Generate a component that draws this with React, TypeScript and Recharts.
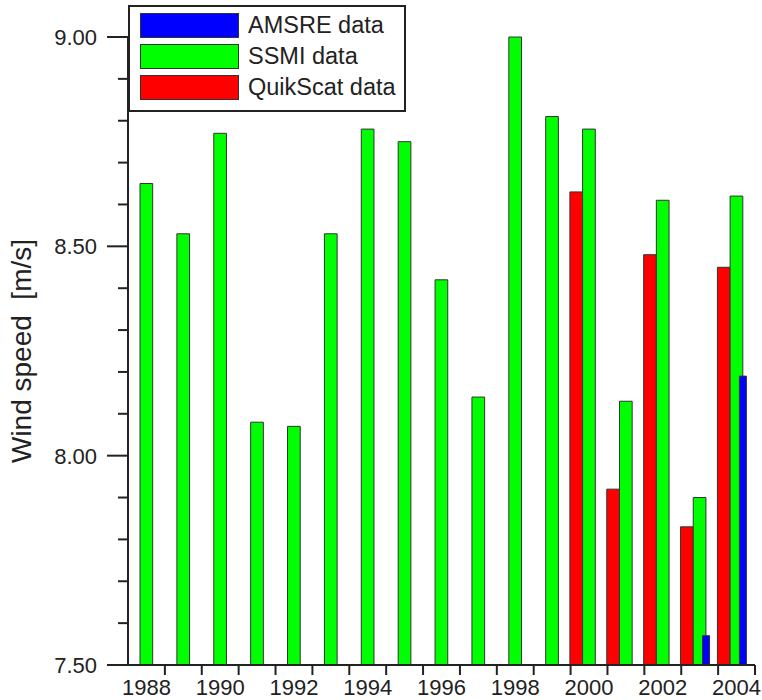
import { BarChart, Bar, XAxis, YAxis, Legend, Rectangle } from 'recharts';

const years = [
  '1988', '1989', '1990', '1991', '1992', '1993', '1994', '1995', '1996',
  '1997', '1998', '1999', '2000', '2001', '2002', '2003', '2004',
];
const ssmi = [8.65, 8.53, 8.77, 8.08, 8.07, 8.53, 8.78, 8.75, 8.42, 8.14, 9.0, 8.81, 8.78, 8.13, 8.61, 7.9, 8.62];
const quikscat = [null, null, null, null, null, null, null, null, null, null, null, null, 8.63, 7.92, 8.48, 7.83, 8.45];
const amsre = [null, null, null, null, null, null, null, null, null, null, null, null, null, null, null, 7.57, 8.19];

const yTicks = [7.5, 7.6, 7.7, 7.8, 7.9, 8.0, 8.1, 8.2, 8.3, 8.4, 8.5, 8.6, 8.7, 8.8, 8.9, 9.0];
const yLabelTicks = [7.5, 8.0, 8.5, 9.0];
const xLabelYears = ['1988', '1990', '1992', '1994', '1996', '1998', '2000', '2002', '2004'];
const legendOrder = ['AMSRE data', 'SSMI data', 'QuikScat data'];

const data = years.map((year, i) => ({
  year,
  ssmi: ssmi[i],
  quikscat: quikscat[i],
  amsre: amsre[i],
}));

const W = 762;
const H = 700;
const LEFT = 128;
const RIGHT = 7;
const FONT = '"Liberation Sans", Arial, sans-serif';
const INK = '#222';
const band = (W - LEFT - RIGHT) / years.length;
const barW = 12.7;

// move a bar sideways from the band centre
const shifted = (dx: number) => (props: any) => <Rectangle {...props} x={props.x + dx} />;

const XTick = ({ x, y, payload }: any) => (
  <g>
    <line x1={x + band / 2} x2={x + band / 2} y1={y} y2={y + 10} stroke={INK} strokeWidth={2} />
    {xLabelYears.includes(payload.value) && (
      <text x={x} y={y + 30} textAnchor="middle" fontSize={22} fontFamily={FONT} fill={INK}>
        {payload.value}
      </text>
    )}
  </g>
);

const YTick = ({ x, y, payload }: any) => {
  const major = yLabelTicks.some((t) => Math.abs(t - payload.value) < 1e-6);
  return (
    <g>
      <line x1={x - (major ? 21 : 10)} x2={x} y1={y} y2={y} stroke={INK} strokeWidth={2} />
      {major && (
        <text x={x - 31} y={y} dy="0.36em" textAnchor="end" fontSize={22} fontFamily={FONT} fill={INK}>
          {payload.value.toFixed(2)}
        </text>
      )}
    </g>
  );
};

const LegendBox = ({ payload }: any) => {
  const items = [...(payload || [])].sort(
    (a: any, b: any) => legendOrder.indexOf(a.value) - legendOrder.indexOf(b.value)
  );
  return (
    <div
      style={{
        width: 278,
        height: 107,
        boxSizing: 'border-box',
        border: `2px solid ${INK}`,
        background: '#fff',
        padding: '3px 0 0 10px',
        fontFamily: FONT,
        fontSize: 23.5,
        color: INK,
      }}
    >
      {items.map((p: any) => (
        <div key={p.value} style={{ height: 31, display: 'flex', alignItems: 'center' }}>
          <div
            style={{
              width: 99,
              height: 25,
              boxSizing: 'border-box',
              background: p.color,
              border: '1px solid #333',
              marginRight: 9,
            }}
          />
          <span>{p.value}</span>
        </div>
      ))}
    </div>
  );
};

export default function App() {
  return (
    <div style={{ position: 'absolute', left: 0, top: 0 }}>
      <BarChart width={W} height={H} data={data} margin={{ top: 37, right: RIGHT, bottom: 0, left: 0 }}>
        <XAxis
          xAxisId="main"
          dataKey="year"
          height={35}
          interval={0}
          tickSize={0}
          tickMargin={0}
          tickLine={false}
          tick={<XTick />}
          axisLine={{ stroke: INK, strokeWidth: 2 }}
        />
        <XAxis xAxisId="qs" dataKey="year" height={0} hide />
        <XAxis xAxisId="am" dataKey="year" height={0} hide />
        <YAxis
          width={LEFT}
          domain={[7.5, 9.0]}
          ticks={yTicks}
          interval={0}
          tickSize={0}
          tickMargin={0}
          tickLine={false}
          tick={<YTick />}
          axisLine={{ stroke: INK, strokeWidth: 2 }}
          label={{
            value: 'Wind speed\u00A0 [m/s]',
            angle: -90,
            position: 'insideLeft',
            offset: 21,
            style: { textAnchor: 'middle', fontSize: 28, fontFamily: FONT, fill: INK },
          }}
        />
        <Legend
          layout="vertical"
          align="center"
          verticalAlign="middle"
          wrapperStyle={{ left: 128, top: 5, width: 278, height: 107 }}
          content={<LegendBox />}
        />
        <Bar
          xAxisId="qs"
          name="QuikScat data"
          dataKey="quikscat"
          barSize={barW}
          fill="#ff0000"
          stroke="#333"
          strokeWidth={1}
          shape={shifted(-barW)}
          isAnimationActive={false}
        />
        <Bar
          xAxisId="main"
          name="SSMI data"
          dataKey="ssmi"
          barSize={barW}
          fill="#00ff00"
          stroke="#333"
          strokeWidth={1}
          isAnimationActive={false}
        />
        <Bar
          xAxisId="am"
          name="AMSRE data"
          dataKey="amsre"
          barSize={7}
          fill="#0000ff"
          stroke="#333"
          strokeWidth={1}
          shape={shifted(6.3)}
          isAnimationActive={false}
        />
      </BarChart>
    </div>
  );
}
